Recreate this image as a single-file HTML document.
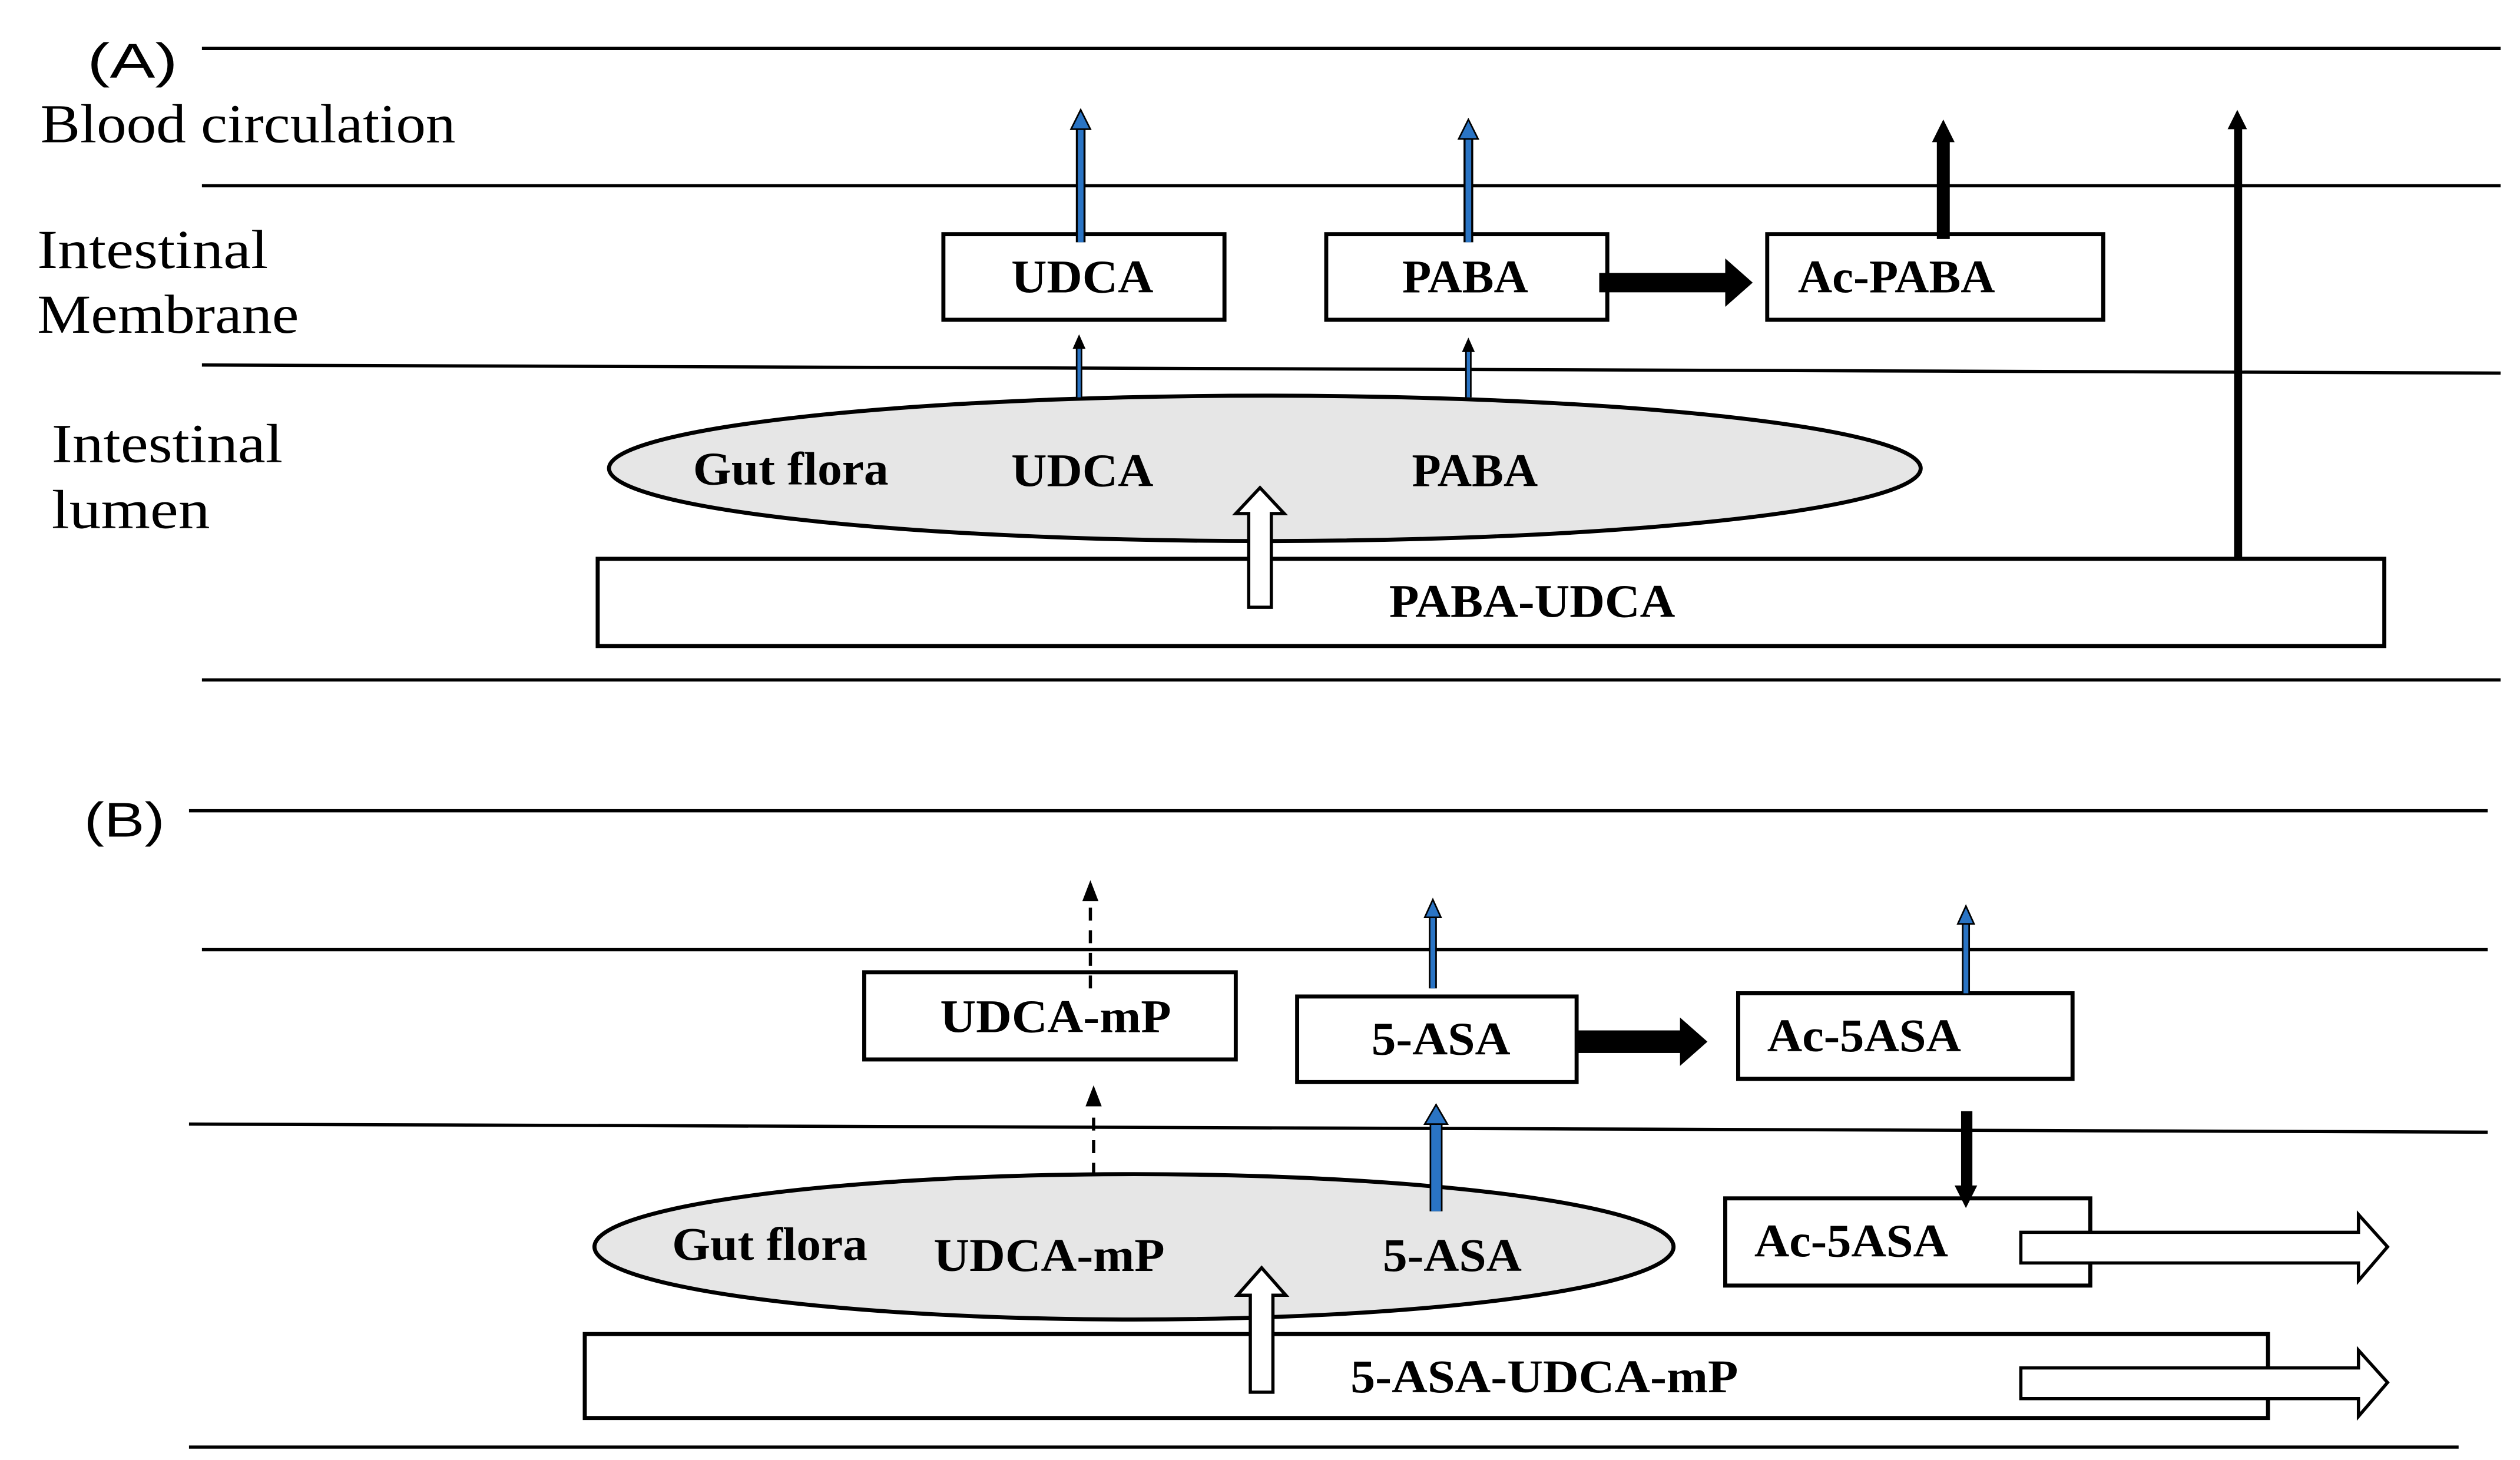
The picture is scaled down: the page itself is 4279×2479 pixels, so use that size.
<!DOCTYPE html>
<html><head><style>html,body{margin:0;padding:0;background:#fff}svg{display:block}</style></head><body>
<svg width="4279" height="2479" viewBox="0 0 1560 904" preserveAspectRatio="none" xmlns="http://www.w3.org/2000/svg">
<g stroke="#000" stroke-width="2" fill="none">
<line x1="125" y1="30" x2="1548" y2="30"/>
<line x1="125" y1="115" x2="1548" y2="115"/>
<line x1="125" y1="226" x2="1548" y2="231"/>
<line x1="125" y1="421" x2="1548" y2="421"/>
<line x1="117" y1="502" x2="1540" y2="502"/>
<line x1="125" y1="588" x2="1540" y2="588"/>
<line x1="117" y1="696" x2="1540" y2="701"/>
<line x1="117" y1="896" x2="1522" y2="896"/>
</g>
<g font-family="Liberation Serif, serif" font-size="34" fill="#000">
<text x="54" y="48" font-family="Liberation Sans, sans-serif" font-size="30" textLength="56" lengthAdjust="spacingAndGlyphs">(A)</text>
<text x="25" y="88" textLength="257" lengthAdjust="spacingAndGlyphs">Blood circulation</text>
<text x="23" y="166" textLength="143" lengthAdjust="spacingAndGlyphs">Intestinal</text>
<text x="23" y="206" textLength="162" lengthAdjust="spacingAndGlyphs">Membrane</text>
<text x="32" y="286" textLength="143" lengthAdjust="spacingAndGlyphs">Intestinal</text>
<text x="32" y="327" textLength="98" lengthAdjust="spacingAndGlyphs">lumen</text>
<text x="52" y="518" font-family="Liberation Sans, sans-serif" font-size="30" textLength="50" lengthAdjust="spacingAndGlyphs">(B)</text>
</g>
<g stroke="#000" stroke-width="2.5" fill="#fff">
<rect x="584" y="145" width="174" height="53"/>
<rect x="821" y="145" width="174" height="53"/>
<rect x="1094" y="145" width="208" height="53"/>
<ellipse cx="783" cy="290" rx="406" ry="45" fill="#e6e6e6"/>
<rect x="370" y="346" width="1106" height="54"/>
<rect x="535" y="602" width="230" height="54"/>
<rect x="803" y="617" width="173" height="53"/>
<rect x="1076" y="615" width="207" height="53"/>
<rect x="1068" y="742" width="226" height="54"/>
<ellipse cx="702" cy="772" rx="334" ry="45" fill="#e6e6e6"/>
<rect x="362" y="826" width="1042" height="52"/>
</g>
<g font-family="Liberation Serif, serif" font-weight="bold" font-size="29" fill="#000">
<text x="626" y="181" textLength="88" lengthAdjust="spacingAndGlyphs">UDCA</text>
<text x="868" y="181" textLength="78" lengthAdjust="spacingAndGlyphs">PABA</text>
<text x="1113" y="181" textLength="122" lengthAdjust="spacingAndGlyphs">Ac-PABA</text>
<text x="429" y="300" textLength="121" lengthAdjust="spacingAndGlyphs">Gut flora</text>
<text x="626" y="301" textLength="88" lengthAdjust="spacingAndGlyphs">UDCA</text>
<text x="874" y="301" textLength="78" lengthAdjust="spacingAndGlyphs">PABA</text>
<text x="860" y="382" textLength="177" lengthAdjust="spacingAndGlyphs">PABA-UDCA</text>
<text x="582" y="639" textLength="143" lengthAdjust="spacingAndGlyphs">UDCA-mP</text>
<text x="849" y="653" textLength="86" lengthAdjust="spacingAndGlyphs">5-ASA</text>
<text x="1094" y="651" textLength="120" lengthAdjust="spacingAndGlyphs">Ac-5ASA</text>
<text x="416" y="780" textLength="121" lengthAdjust="spacingAndGlyphs">Gut flora</text>
<text x="578" y="787" textLength="143" lengthAdjust="spacingAndGlyphs">UDCA-mP</text>
<text x="856" y="787" textLength="86" lengthAdjust="spacingAndGlyphs">5-ASA</text>
<text x="1086" y="778" textLength="120" lengthAdjust="spacingAndGlyphs">Ac-5ASA</text>
<text x="836" y="862" textLength="240" lengthAdjust="spacingAndGlyphs">5-ASA-UDCA-mP</text>
</g>
<g>
<line x1="669" y1="150" x2="669" y2="78" stroke="#000" stroke-width="6"/><line x1="669" y1="150" x2="669" y2="78" stroke="#2a74c4" stroke-width="3.5"/><path d="M663,80 L669,68 L675,80 z" fill="#2a74c4" stroke="#000" stroke-width="1"/>
<line x1="909" y1="150" x2="909" y2="84" stroke="#000" stroke-width="6"/><line x1="909" y1="150" x2="909" y2="84" stroke="#2a74c4" stroke-width="3.5"/><path d="M903,86 L909,74 L915,86 z" fill="#2a74c4" stroke="#000" stroke-width="1"/>
<line x1="668" y1="246" x2="668" y2="214" stroke="#000" stroke-width="4"/><line x1="668" y1="246" x2="668" y2="214" stroke="#2a74c4" stroke-width="2"/><path d="M664,216 L668,207 L672,216 z" fill="#000"/>
<line x1="909" y1="246" x2="909" y2="216" stroke="#000" stroke-width="4"/><line x1="909" y1="246" x2="909" y2="216" stroke="#2a74c4" stroke-width="2"/><path d="M905,218 L909,209 L913,218 z" fill="#000"/>
<line x1="887" y1="612" x2="887" y2="566" stroke="#000" stroke-width="5"/><line x1="887" y1="612" x2="887" y2="566" stroke="#2a74c4" stroke-width="3"/><path d="M882,568 L887,557 L892,568 z" fill="#2a74c4" stroke="#000" stroke-width="1"/>
<line x1="889" y1="750" x2="889" y2="694" stroke="#000" stroke-width="8"/><line x1="889" y1="750" x2="889" y2="694" stroke="#2a74c4" stroke-width="6"/><path d="M882,696 L889,684 L896,696 z" fill="#2a74c4" stroke="#000" stroke-width="1"/>
<line x1="1217" y1="615" x2="1217" y2="570" stroke="#000" stroke-width="5"/><line x1="1217" y1="615" x2="1217" y2="570" stroke="#2a74c4" stroke-width="3"/><path d="M1212,572 L1217,561 L1222,572 z" fill="#2a74c4" stroke="#000" stroke-width="1"/>
</g>
<g fill="#000">
<rect x="1199" y="86" width="8" height="62"/><path d="M1196,88 L1203,74 L1210,88 z"/>
<rect x="1383" y="78" width="5" height="268"/><path d="M1379,80 L1385,68 L1391,80 z"/>
<rect x="990" y="169" width="80" height="12"/><path d="M1068,160 L1085,175 L1068,190 z"/>
<rect x="976" y="638" width="66" height="14"/><path d="M1040,630 L1057,645 L1040,660 z"/>
<rect x="1214" y="688" width="7" height="48"/><path d="M1210,734 L1217,748 L1224,734 z"/>
<path d="M670,558 L675,545 L680,558 z"/><path d="M672,685 L677,672 L682,685 z"/>
</g>
<g stroke="#000" stroke-width="2" stroke-dasharray="8,6">
<line x1="675" y1="612" x2="675" y2="558"/>
<line x1="677" y1="728" x2="677" y2="686"/>
</g>
<g fill="#fff" stroke="#000" stroke-width="2">
<path d="M773,376 L773,318 L765,318 L780,302 L795,318 L787,318 L787,376 z"/>
<path d="M774,862 L774,802 L766,802 L781,785 L796,802 L788,802 L788,862 z"/>
<path d="M1251,763 L1460,763 L1460,752 L1478,772 L1460,793 L1460,782 L1251,782 z"/>
<path d="M1251,847 L1460,847 L1460,836 L1478,856 L1460,877 L1460,866 L1251,866 z"/>
</g>
</svg>
</body></html>
